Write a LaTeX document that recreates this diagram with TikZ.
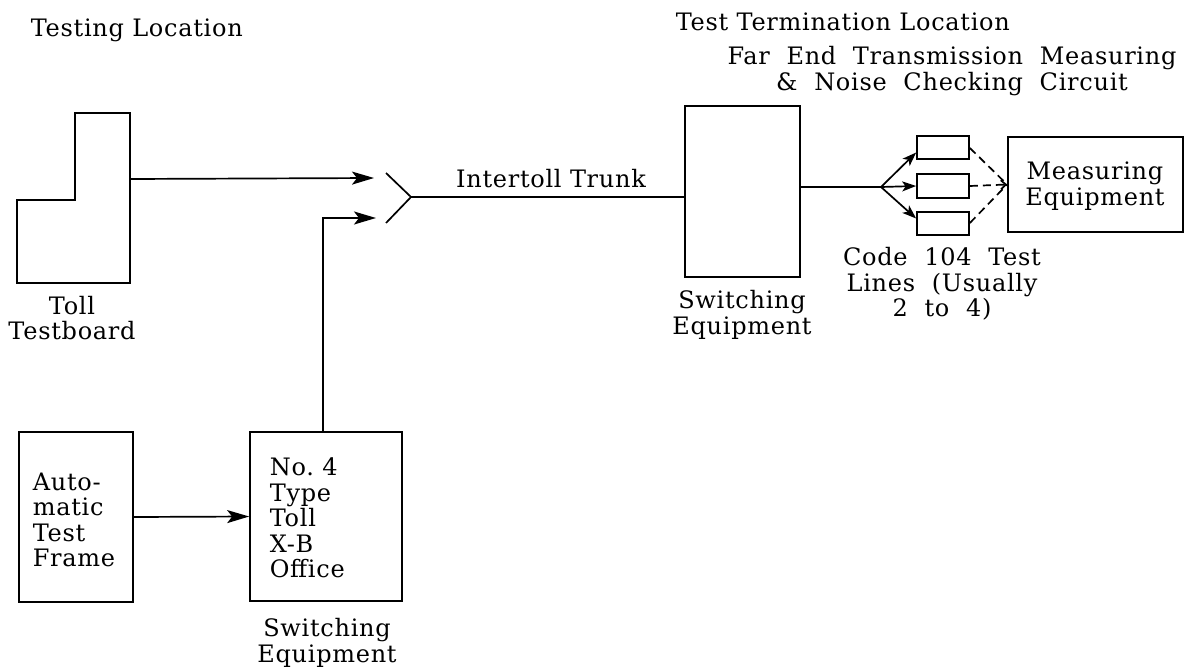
\documentclass[tikz,border=0pt]{standalone}
\usepackage{fontspec}
\setmainfont[LetterSpace=3]{DejaVu Serif}
\usetikzlibrary{arrows.meta}
\begin{document}
\begin{tikzpicture}[x=1pt,y=-1pt,
  line width=1.7pt,
  txt/.style={inner sep=0pt,font=\fontsize{24}{25.5}\selectfont},
  box/.style={draw,line width=1.7pt,inner sep=0pt},
  bigarrow/.style={-{Stealth[length=22pt,width=13pt,inset=5pt]}},
  fanarrow/.style={-{Stealth[length=14pt,width=10pt,inset=3.5pt]}},
  dasharrow/.style={dash pattern=on 8pt off 5pt},
]
\useasboundingbox (0,0) rectangle (1198,669);

% titles
\node[txt,anchor=base west] (tloc) at (30,37) {Testing Location};
\node[txt,anchor=base west] (ttloc) at (675,31) {Test Termination Location};
\node[txt,align=center] (fartitle) at (952,71) {Far\ \ End\ \ Transmission\ \ Measuring\\\&\ \ Noise\ \ Checking\ \ Circuit};

% toll testboard
\draw (17,200) -- (75,200) -- (75,113) -- (130,113) -- (130,283) -- (17,283) -- cycle;
\coordinate (tbout) at (130,179);
\node[txt,align=center] (tblabel) at (72,318) {Toll\\Testboard};

% merge symbol
\coordinate (m) at (411,197);
\coordinate (mtop) at (386,173);
\coordinate (mbot) at (386,223);
\draw (mtop) -- (m) -- (mbot);
\coordinate (tip1) at (374,178);
\coordinate (tip2) at (376,218);
\coordinate (corner) at (323,218);

% lower-left boxes
\node[box,minimum width=114pt,minimum height=170pt] (atf) at (76,517) {};
\node[txt,align=left,anchor=west] (atftext) at (32,520) {Auto-\\matic\\Test\\Frame};
\node[box,minimum width=152pt,minimum height=169pt] (sw2) at (326,516.5) {};
\node[txt,align=left,anchor=west] (sw2text) at (269,518) {No.\ 4\\Type\\Toll\\X-B\\Office};
\node[txt,align=center] (sw2label) at (327,643) {Switching\\Equipment};

\draw[bigarrow] (atf.east) -- (sw2.west);
\draw[bigarrow] (tbout) -- (tip1);
\draw[bigarrow] (sw2.north -| corner) -- (corner) -- (tip2);

% trunk
\node[box,minimum width=115pt,minimum height=171pt] (sws) at (742.5,191.5) {};
\node[txt,align=center] (swslabel) at (742,315) {Switching\\Equipment};
\draw (m) -- (m -| sws.west);
\node[txt,anchor=base] (trunklabel) at (551,187) {Intertoll Trunk};

% fan
\coordinate (fan) at (881,187);
\draw (sws.east |- fan) -- (fan);
\node[box,minimum width=52pt,minimum height=23pt] (t1) at (943,147.5) {};
\node[box,minimum width=52pt,minimum height=24pt] (t2) at (943,186) {};
\node[box,minimum width=52pt,minimum height=23pt] (t3) at (943,223.5) {};
\draw[fanarrow] (fan) -- ([yshift=-5pt]t1.west);
\draw[fanarrow] (fan) -- (t2.west);
\draw[fanarrow] (fan) -- ([yshift=5pt]t3.west);

\node[box,minimum width=175pt,minimum height=95pt] (meas) at (1095.5,184.5) {};
\node[txt,align=center] (meastext) at (1095,186) {Measuring\\Equipment};
\draw[dasharrow] ([yshift=-0.5pt]t1.east) -- (meas.west);
\draw[dasharrow,-{Straight Barb[length=5pt,width=9pt]}] (t2.east) -- (meas.west);
\draw[dasharrow] ([yshift=0.5pt]t3.east) -- (meas.west);

\node[txt,align=center] (codelabel) at (942,284) {Code\ \ 104\ \ Test\\Lines\ \ (Usually\\2\ \ to\ \ 4)};
\end{tikzpicture}
\end{document}
